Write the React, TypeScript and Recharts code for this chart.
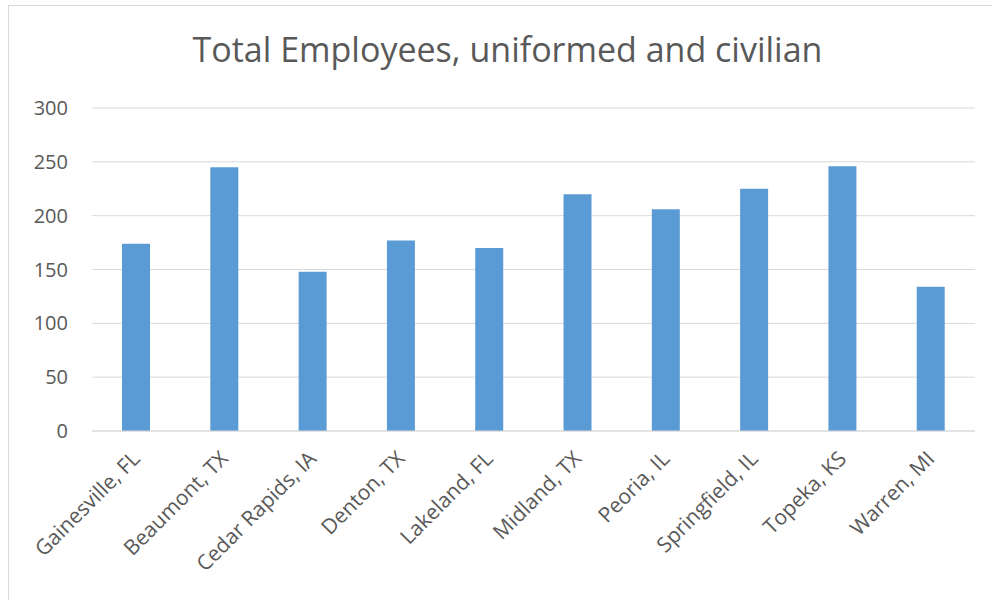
import React from "react";
import { BarChart, Bar, XAxis, YAxis, CartesianGrid } from "recharts";

const categories = [
  "Gainesville, FL",
  "Beaumont, TX",
  "Cedar Rapids, IA",
  "Denton, TX",
  "Lakeland, FL",
  "Midland, TX",
  "Peoria, IL",
  "Springfield, IL",
  "Topeka, KS",
  "Warren, MI",
];
const employees = [174, 245, 148, 177, 170, 220, 206, 225, 246, 134];
const yTicks = [0, 50, 100, 150, 200, 250, 300];
const title = "Total Employees, uniformed and civilian";

const data = categories.map((name, i) => ({ name, value: employees[i] }));

const FONT = "'Open Sans', sans-serif";
const TEXT_COLOR = "#595959";

const XTick = (props: any) => {
  const { x, y, payload } = props;
  const tx = x + 5;
  const ty = y + 21;
  return (
    <text
      x={tx}
      y={ty}
      transform={`rotate(-45, ${tx}, ${ty})`}
      textAnchor="end"
      fill={TEXT_COLOR}
      fontSize={21}
      fontFamily={FONT}
    >
      {payload.value}
    </text>
  );
};

export default function App() {
  return (
    <div
      style={{
        position: "absolute",
        left: 8,
        top: 5,
        width: 984,
        height: 595,
        overflow: "hidden",
      }}
    >
      <div
        style={{
          width: 1000,
          height: 620,
          border: "1px solid #d9d9d9",
          background: "#fff",
          position: "relative",
          boxSizing: "content-box",
        }}
      >
        <BarChart
          width={1000}
          height={620}
          data={data}
          margin={{ top: 102, right: 34, left: 0, bottom: 0 }}
          barCategoryGap="34%"
        >
          <CartesianGrid vertical={false} stroke="#d9d9d9" strokeWidth={1} />
          <XAxis
            dataKey="name"
            interval={0}
            tickLine={false}
            axisLine={{ stroke: "#d9d9d9" }}
            height={195}
            tick={<XTick />}
          />
          <YAxis
            domain={[0, 300]}
            ticks={yTicks}
            width={83}
            tickLine={false}
            axisLine={false}
            tickMargin={18}
            tick={{ fill: TEXT_COLOR, fontSize: 20, fontFamily: FONT }}
          />
          <Bar dataKey="value" fill="#5B9BD5" isAnimationActive={false} />
        </BarChart>
        <svg
          width={1000}
          height={100}
          style={{ position: "absolute", left: 0, top: 0, pointerEvents: "none" }}
        >
          <text
            x={498.5}
            y={56}
            textAnchor="middle"
            fill={TEXT_COLOR}
            fontSize={34}
            fontFamily={FONT}
          >
            {title}
          </text>
        </svg>
      </div>
    </div>
  );
}
